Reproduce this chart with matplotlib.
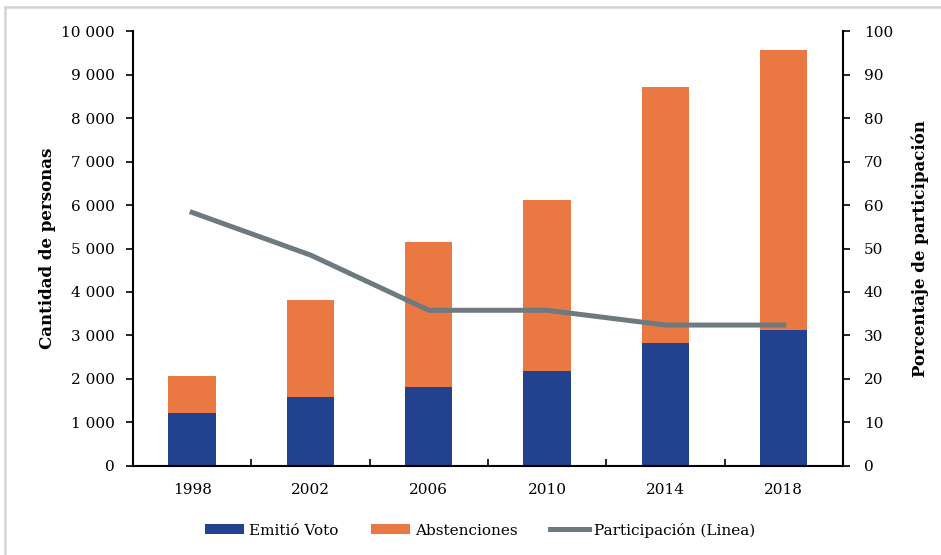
import numpy as np
import matplotlib.pyplot as plt
from matplotlib.lines import Line2D
from matplotlib.ticker import FuncFormatter

plt.rcParams['font.family'] = ['DejaVu Serif']
plt.rcParams['font.size'] = 11

## valores por eleccion ##
years = ['1998', '2002', '2006', '2010', '2014', '2018']
votos = [1220, 1580, 1810, 2190, 2830, 3125]
abstenciones = [860, 2245, 3350, 3925, 5890, 6445]
participacion = [58.3, 48.5, 35.8, 35.8, 32.4, 32.4]

c_voto = '#22418f'
c_abst = '#ea7843'
c_part = '#6d7a80'

x = np.arange(len(years))

fig = plt.figure(figsize=(9.41, 5.55), dpi=100)
ax = fig.add_axes([0.1413, 0.1604, 0.7545, 0.7837])

ax.bar(x, votos, width=0.40, color=c_voto, label='Emitió Voto')
ax.bar(x, abstenciones, width=0.40, bottom=votos, color=c_abst, label='Abstenciones')

ax.set_xlim(-0.5, len(years) - 0.5)
ax.set_ylim(0, 10000)
ax.set_yticks(np.arange(0, 10001, 1000))
ax.yaxis.set_major_formatter(FuncFormatter(lambda v, p: f'{int(v):,}'.replace(',', ' ')))
ax.set_xticks(x)
ax.set_xticklabels(years)
ax.set_xticks(x[:-1] + 0.5, minor=True)
ax.tick_params(axis='x', which='major', length=0, pad=12)
ax.tick_params(axis='x', which='minor', direction='in', length=5, width=1.2)
ax.tick_params(axis='y', direction='out', length=5, width=1.2, pad=8)
ax.set_ylabel('Cantidad de personas', fontweight='bold', fontsize=12, labelpad=4)

for s in ['top', 'right']:
    ax.spines[s].set_visible(False)
for s in ['left', 'bottom']:
    ax.spines[s].set_linewidth(1.5)

# eje secundario con el porcentaje
ax2 = ax.twinx()
ax2.plot(x, participacion, color=c_part, linewidth=3.6, label='Participación (Linea)')
ax2.set_ylim(0, 100)
ax2.set_yticks(np.arange(0, 101, 10))
ax2.tick_params(axis='y', direction='out', length=5, width=1.2, pad=10)
ax2.set_ylabel('Porcentaje de participación', fontweight='bold', fontsize=12,
               labelpad=13)
for s in ['top', 'left', 'bottom']:
    ax2.spines[s].set_visible(False)
ax2.spines['right'].set_linewidth(1.5)

h1, l1 = ax.get_legend_handles_labels()
h2, l2 = ax2.get_legend_handles_labels()
fig.legend(h1 + h2, l1 + l2, loc='center', bbox_to_anchor=(0.51, 0.045), ncol=3,
           frameon=False, handlelength=2.6, handleheight=0.65, handletextpad=0.3,
           columnspacing=2.1, fontsize=11)

# marco gris parcial
fig.add_artist(Line2D([5 / 941, 1], [1 - 7 / 555, 1 - 7 / 555], color='#d4d4d4', lw=1.8))
fig.add_artist(Line2D([5 / 941, 5 / 941], [0, 1 - 7 / 555], color='#d4d4d4', lw=1.8))

plt.savefig('out.png', dpi=100)
